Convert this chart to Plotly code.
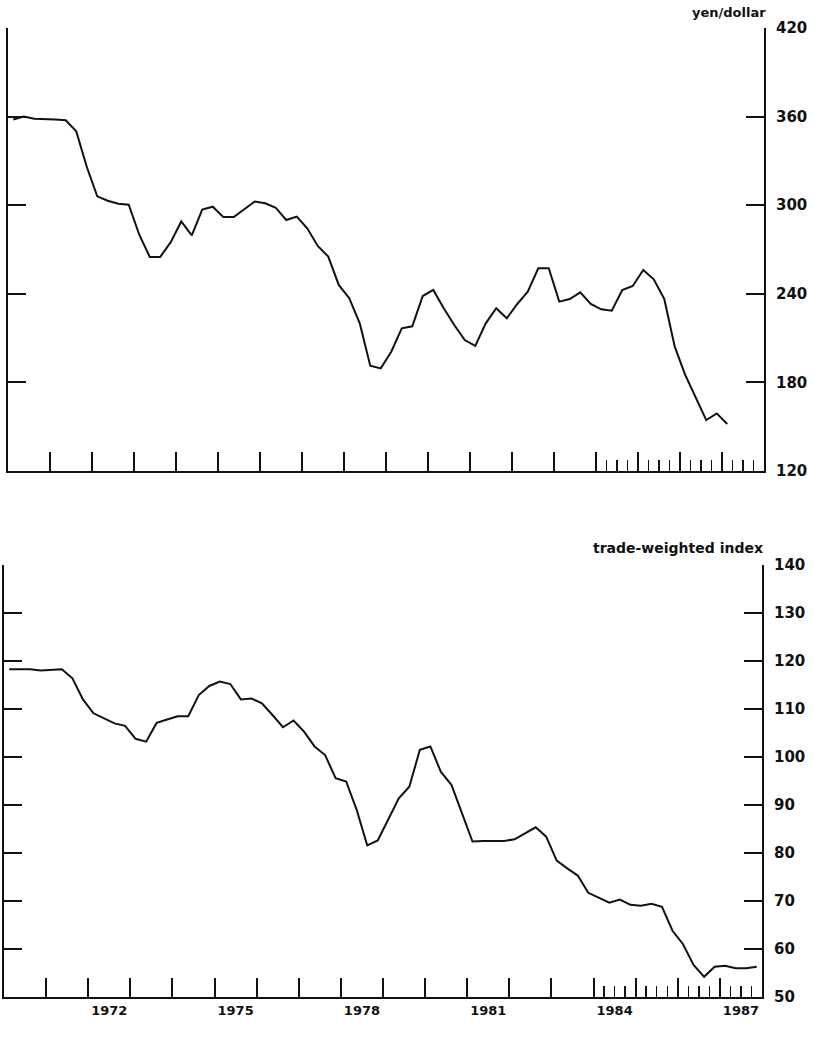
import plotly.graph_objects as go

# ---------------- data (quarterly, 1970Q1 onwards) ----------------
start_year = 1970

yen_per_dollar = [
    358, 360, 358.5, 358.5, 358, 357.5, 350, 326, 306, 303, 301, 300.3,
    280, 265, 265, 275, 289, 279.5, 297, 299, 292, 292, 297, 302.5,
    301.3, 298.3, 290, 292.3, 284.4, 272.4, 265.2, 246, 237, 220, 191.3, 189.5,
    200.8, 216.6, 218, 238.5, 242.6, 230.2, 218.9, 208.7, 204.7, 220, 230.2, 223.4,
    233.1, 241.4, 257.3, 257.3, 234.7, 236.5, 241, 233.1, 229.5, 228.6, 242.6, 245.3,
    256.1, 249.8, 236.5, 204.2, 185, 169.6, 154.5, 159, 151.8,
]

trade_weighted = [
    118.3, 118.3, 118.3, 118.0, 118.1, 118.3, 116.4, 112.0, 109.1, 108.1, 107.0, 106.5,
    103.8, 103.2, 107.1, 107.8, 108.5, 108.5, 112.9, 114.8, 115.7, 115.2, 112.0, 112.2,
    111.2, 108.75, 106.2, 107.6, 105.3, 102.2, 100.4, 95.6, 94.9, 89.0, 81.6, 82.6,
    86.9, 91.4, 93.8, 101.5, 102.2, 96.9, 94.2, 88.3, 82.4, 82.5, 82.5, 82.5,
    82.85, 84.1, 85.35, 83.4, 78.4, 76.8, 75.3, 71.7, 70.6, 69.65, 70.3, 69.2,
    69.0, 69.4, 68.8, 63.8, 61.0, 56.7, 54.2, 56.3, 56.5, 56.0, 56.0, 56.3,
]

year_labels = ["1972", "1975", "1978", "1981", "1984", "1987"]
yen_ticks = [120, 180, 240, 300, 360, 420]
twi_ticks = [50, 60, 70, 80, 90, 100, 110, 120, 130, 140]
annual_ticks = list(range(1971, 1988))
quarter_ticks = [1984.25, 1984.5, 1984.75, 1985.25, 1985.5, 1985.75,
                 1986.25, 1986.5, 1986.75, 1987.25, 1987.5, 1987.75]

def quarter_x(n):
    return [start_year + (i // 4) + ((i % 4) + 0.5) / 4 for i in range(n)]

x_top = quarter_x(len(yen_per_dollar))
x_bot = quarter_x(len(trade_weighted))

# ---------------- figure ----------------
W, H = 814, 1037
INK = "#111111"
FONT = "DejaVu Sans"

def px_x(p):
    return p / W

def px_y(p):
    return 1 - p / H

fig = go.Figure()
fig.add_trace(go.Scatter(x=x_top, y=yen_per_dollar, mode="lines",
                         line=dict(color=INK, width=2), xaxis="x", yaxis="y",
                         hoverinfo="skip", showlegend=False))
fig.add_trace(go.Scatter(x=x_bot, y=trade_weighted, mode="lines",
                         line=dict(color=INK, width=2), xaxis="x2", yaxis="y2",
                         hoverinfo="skip", showlegend=False))
# invisible trace to host the year-label axis
fig.add_trace(go.Scatter(x=[1980], y=[95], mode="markers", opacity=0,
                         xaxis="x3", yaxis="y2", hoverinfo="skip", showlegend=False))

xcommon = dict(range=[1970, 1988], showgrid=False, zeroline=False, showline=True,
               linecolor=INK, linewidth=2, ticks="inside", ticklen=19, tickwidth=2,
               tickcolor=INK, tickmode="array", tickvals=annual_ticks,
               showticklabels=False,
               minor=dict(tickmode="array", tickvals=quarter_ticks, ticks="inside",
                          ticklen=11, tickwidth=1.5, tickcolor=INK, showgrid=False))

ycommon = dict(showgrid=False, zeroline=False, showline=True, linecolor=INK,
               linewidth=2, ticks="inside", ticklen=18, tickwidth=2, tickcolor=INK,
               mirror="ticks", side="right", tickmode="array",
               tickfont=dict(family=FONT, size=15, color=INK, weight="bold"),
               ticklabelstandoff=7)

fig.update_layout(
    width=W, height=H,
    margin=dict(l=0, r=0, t=0, b=0, autoexpand=False),
    paper_bgcolor="white", plot_bgcolor="white",
    xaxis=dict(domain=[px_x(8), px_x(764)], anchor="y", **xcommon),
    yaxis=dict(domain=[px_y(471), px_y(28)], range=[120, 420], anchor="x",
               tickvals=yen_ticks, ticktext=[str(v) for v in yen_ticks], **ycommon),
    xaxis2=dict(domain=[px_x(4), px_x(762)], anchor="y2", **xcommon),
    yaxis2=dict(domain=[px_y(997), px_y(565)], range=[50, 140], anchor="x2",
                tickvals=twi_ticks, ticktext=[str(v) for v in twi_ticks], **ycommon),
    xaxis3=dict(overlaying="x2", anchor="y2", range=[1970, 1988], showgrid=False,
                zeroline=False, showline=False, ticks="", side="bottom",
                tickmode="array", tickvals=[int(s) + 0.5 for s in year_labels],
                ticktext=year_labels, ticklabelstandoff=4,
                tickfont=dict(family=FONT, size=13, color=INK, weight="bold")),
    annotations=[
        dict(text="yen/dollar", xref="paper", yref="paper", x=px_x(768), y=px_y(13),
             xanchor="right", yanchor="middle", showarrow=False,
             font=dict(family=FONT, size=13, color=INK, weight="bold")),
        dict(text="trade-weighted index", xref="paper", yref="paper", x=px_x(765),
             y=px_y(548), xanchor="right", yanchor="middle", showarrow=False,
             font=dict(family=FONT, size=14, color=INK, weight="bold")),
    ],
)

fig.write_html("out.html",
               config={"displayModeBar": False, "staticPlot": True},
               post_script="document.body.style.margin='0px';"
                           "document.body.style.overflow='hidden';")
